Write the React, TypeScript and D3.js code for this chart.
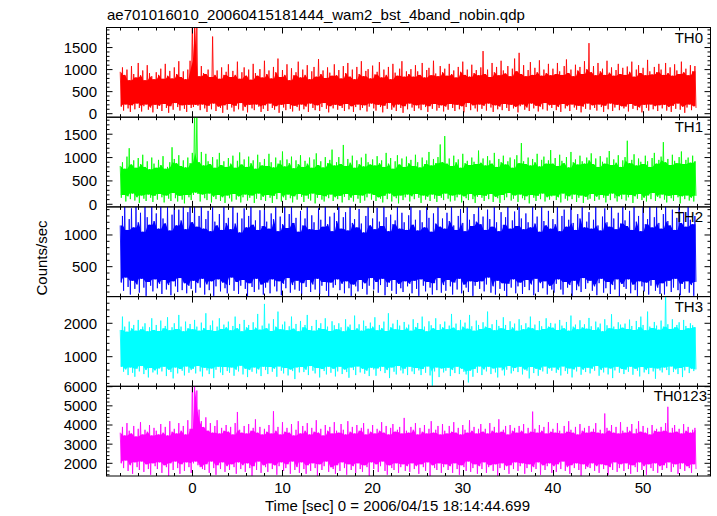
import React from "react";
import * as d3 from "d3";

// Time binning of the light curves (sec, relative to trigger)
const T_START = -8;
const T_STEP = 0.25;

// Per-bin upper / lower envelope values (counts/sec)
const th0Hi = [
  950, 1050, 880, 1000, 760, 1080, 900, 820, 1150, 870, 980, 760, 1100, 920, 850, 780,
  940, 880, 1020, 790, 1130, 860, 970, 800, 1050, 900, 1190, 830, 960, 780, 1000, 1200,
  2100, 1990, 2000, 850, 1080, 920, 900, 1000, 830, 1750, 880, 980, 790, 1050, 880, 950,
  1120, 830, 970, 880, 1180, 790, 940, 1050, 860, 1000, 770, 1130, 920, 860, 1010, 820,
  1200, 900, 980, 800, 1060, 940, 1250, 830, 990, 880, 1120, 760, 1030, 870, 940, 1180,
  820, 1000, 880, 1100, 780, 960, 1060, 840, 1240, 900, 980, 810, 1050, 930, 860, 1120,
  870, 990, 800, 1080, 920, 1150, 840, 1000, 780, 1060, 900, 1190, 850, 970, 1010, 800,
  1090, 890, 950, 1170, 820, 1000, 880, 1060, 780, 1130, 930, 860, 1020, 1190, 840, 960,
  900, 1010, 840, 1100, 960, 880, 1150, 820, 990, 1040, 870, 1200, 910, 850, 1080, 940,
  1020, 860, 1130, 900, 980, 820, 1060, 950, 1180, 880, 1000, 840, 1110, 920, 990, 870,
  1050, 1420, 900, 1000, 830, 1150, 940, 1060, 870, 1200, 980, 910, 1080, 850, 1020, 1250,
  960, 1380, 900, 1100, 850, 990, 1170, 880, 1040, 940, 1210, 860, 1000, 920, 1130, 870,
  1020, 900, 1150, 960, 880, 1080, 1230, 920, 1000, 850, 1110, 980, 1060, 900, 1190, 1010,
  1600, 940, 1080, 870, 1150, 960, 1020, 880, 1200, 930, 1050, 860, 990, 1130, 900, 1040,
  880, 1070, 950, 1180, 840, 1000, 1100, 920, 1040, 870, 1220, 960, 890, 1060, 940, 1130,
  1000, 880, 1150, 920, 1050, 860, 1120, 980, 900, 1180, 940, 1020, 870, 1100, 960, 1080,
];
const th0Lo = [
  160, 70, 210, 120, 40, 190, 100, 230, 130, 50, 170, 210, 90, 140, 30, 200,
  110, 180, 60, 220, 130, 20, 170, 90, 240, 150, 70, 190, 110, 40, 200, 130,
  150, 200, 180, 80, 210, 120, 40, 180, 100, 230, 60, 160, 130, 20, 190, 90,
  220, 140, 50, 180, 100, 240, 70, 150, 30, 200, 120, 80, 210, 160, 40, 110,
  190, 60, 230, 130, 90, 170, 20, 200, 140, 80, 220, 110, 50, 180, 150, 70,
  210, 100, 160, 40, 230, 130, 80, 190, 60, 150, 240, 110, 30, 170, 120, 200,
  90, 180, 130, 60, 220, 100, 170, 40, 150, 210, 80, 130, 190, 50, 160, 230,
  120, 70, 200, 150, 30, 180, 110, 240, 90, 140, 60, 210, 130, 20, 170, 100,
  230, 140, 60, 190, 120, 80, 210, 150, 40, 170, 110, 220, 70, 130, 190, 50,
  160, 90, 220, 130, 60, 200, 100, 170, 30, 150, 240, 80, 190, 120, 50, 210,
  110, 180, 70, 230, 140, 40, 190, 100, 160, 80, 220, 130, 60, 200, 120, 150,
  30, 170, 210, 90, 140, 60, 230, 120, 180, 50, 160, 100, 240, 70, 190, 130,
  200, 80, 150, 40, 220, 120, 170, 60, 210, 140, 90, 180, 30, 160, 110, 230,
  90, 190, 130, 70, 210, 150, 40, 180, 100, 230, 60, 140, 200, 80, 170, 120,
  160, 50, 220, 110, 180, 80, 140, 30, 200, 130, 70, 210, 100, 170, 60, 190,
  120, 200, 70, 150, 40, 180, 110, 230, 90, 160, 20, 140, 210, 80, 170, 130,
];

const th1Hi = [
  820, 900, 760, 1020, 1200, 850, 940, 780, 990, 860, 1060, 800, 920, 750, 1000, 870,
  780, 950, 840, 1030, 760, 800, 900, 1220, 970, 880, 1050, 820, 940, 790, 1000, 880,
  1100, 2000, 1950, 900, 1120, 830, 1080, 920, 860, 1010, 780, 960, 1100, 840, 920, 800,
  990, 870, 1040, 780, 930, 1110, 850, 960, 800, 1020, 880, 940, 760, 1060, 900, 830,
  970, 820, 1080, 900, 790, 1000, 870, 940, 1130, 810, 960, 880, 1020, 770, 940, 860,
  1050, 800, 930, 870, 1000, 780, 960, 1090, 840, 920, 790, 1010, 880, 950, 1170, 830,
  900, 1010, 860, 1270, 820, 970, 890, 1040, 780, 940, 860, 1000, 810, 1080, 900, 850,
  960, 830, 1030, 880, 940, 800, 1100, 870, 990, 760, 920, 1050, 850, 980, 800, 1020,
  880, 950, 820, 1060, 900, 790, 1000, 860, 940, 1120, 830, 970, 880, 1010, 1280, 900,
  1460, 870, 980, 820, 1040, 900, 960, 780, 1080, 880, 930, 840, 1000, 910, 860, 1150,
  890, 980, 830, 1030, 940, 870, 1100, 800, 970, 900, 1040, 850, 920, 1000, 780, 960,
  1050, 880, 1310, 920, 860, 1000, 830, 970, 900, 1080, 810, 950, 1020, 870, 940, 1160,
  870, 990, 820, 1060, 930, 880, 1010, 790, 1120, 900, 960, 850, 1040, 920, 870, 1000,
  940, 1090, 860, 980, 800, 1030, 910, 870, 1000, 1140, 840, 960, 890, 1050, 800, 940,
  1010, 1360, 880, 950, 1070, 830, 980, 910, 860, 1040, 920, 800, 990, 1100, 870, 950,
  1020, 1330, 900, 970, 840, 1060, 930, 880, 1010, 1130, 860, 950, 1000, 890, 1040, 920,
];
const th1Lo = [
  140, 200, 60, 170, 110, 230, 80, 150, 30, 190, 120, 70, 210, 140, 50, 180,
  100, 220, 150, 40, 190, 120, 70, 240, 130, 60, 180, 100, 20, 200, 150, 90,
  200, 250, 220, 60, 210, 130, 90, 230, 40, 160, 110, 200, 70, 150, 30, 190,
  130, 60, 220, 100, 170, 40, 150, 210, 80, 140, 190, 30, 120, 230, 90, 160,
  70, 200, 140, 30, 180, 110, 240, 60, 150, 90, 210, 130, 40, 170, 100, 220,
  160, 50, 190, 120, 80, 230, 20, 140, 200, 100, 60, 170, 130, 210, 70, 150,
  110, 180, 40, 160, 220, 90, 140, 60, 200, 120, 30, 190, 80, 150, 230, 100,
  200, 70, 150, 120, 40, 180, 110, 230, 60, 170, 130, 20, 190, 90, 150, 210,
  60, 170, 110, 220, 140, 30, 190, 100, 160, 70, 210, 120, 50, 180, 140, 90,
  230, 120, 60, 190, 80, 150, 210, 40, 170, 130, 90, 220, 110, 30, 160, 200,
  140, 70, 180, 110, 220, 50, 160, 130, 30, 200, 90, 150, 240, 80, 120, 190,
  50, 210, 130, 90, 170, 20, 200, 140, 70, 180, 110, 230, 60, 150, 100, 170,
  190, 90, 150, 40, 230, 120, 80, 170, 110, 210, 50, 140, 190, 30, 160, 100,
  120, 220, 70, 160, 100, 200, 140, 40, 180, 90, 230, 130, 60, 170, 110, 210,
  80, 150, 200, 30, 170, 120, 220, 90, 140, 60, 190, 110, 240, 70, 160, 130,
  210, 100, 40, 180, 130, 70, 200, 150, 20, 170, 110, 190, 80, 140, 60, 180,
];

const th2Hi = [
  1150, 1300, 1500, 1080, 1250, 1420, 1120, 1500, 1200, 1350, 1050, 1480, 1280, 1160, 1500, 1220,
  1340, 1100, 1500, 1260, 1180, 1450, 1070, 1320, 1500, 1150, 1400, 1230, 1500, 1090, 1360, 1500,
  1200, 1480, 1130, 1300, 1500, 1100, 1250, 1380, 1060, 1500, 1210, 1150, 1330, 1080, 1460, 1190,
  1270, 1090, 1500, 1180, 1350, 1040, 1260, 1420, 1120, 1300, 1500, 1160, 1230, 1080, 1390, 1140,
  1500, 1210, 1100, 1340, 1250, 1500, 1060, 1290, 1170, 1440, 1110, 1330, 1500, 1190, 1270, 1050,
  1380, 1150, 1260, 1500, 1090, 1310, 1200, 1080, 1420, 1240, 1130, 1500, 1170, 1290, 1060, 1350,
  1220, 1500, 1100, 1280, 1360, 1070, 1500, 1190, 1250, 1120, 1410, 1180, 1040, 1300, 1500, 1150,
  1260, 1090, 1430, 1210, 1140, 1500, 1280, 1060, 1320, 1170, 1230, 1460, 1100, 1350, 1200, 1080,
  1310, 1500, 1160, 1240, 1070, 1390, 1200, 1120, 1500, 1270, 1050, 1340, 1180, 1440, 1130, 1260,
  1100, 1350, 1220, 1500, 1150, 1080, 1300, 1410, 1190, 1060, 1500, 1240, 1140, 1330, 1210, 1500,
  1170, 1290, 1080, 1400, 1250, 1130, 1500, 1200, 1060, 1360, 1160, 1280, 1500, 1100, 1230, 1370,
  1140, 1500, 1260, 1090, 1340, 1200, 1120, 1450, 1180, 1290, 1050, 1500, 1220, 1150, 1380, 1100,
  1250, 1170, 1500, 1060, 1300, 1400, 1130, 1240, 1500, 1190, 1080, 1330, 1260, 1500, 1120, 1210,
  1360, 1100, 1240, 1500, 1150, 1070, 1290, 1420, 1200, 1130, 1500, 1260, 1090, 1350, 1180, 1500,
  1230, 1140, 1380, 1080, 1500, 1210, 1300, 1060, 1440, 1170, 1250, 1500, 1120, 1280, 1500, 1190,
  1100, 1330, 1500, 1220, 1150, 1400, 1080, 1270, 1500, 1190, 1360, 1130, 1500, 1240, 1170, 1300,
];
const th2Lo = [
  250, 120, 330, 180, 60, 280, 150, 220, 90, 310, 170, 40, 260, 200, 110, 300,
  160, 230, 70, 290, 140, 210, 50, 270, 190, 100, 320, 130, 240, 80, 200, 150,
  280, 90, 240, 170, 310, 60, 220, 130, 270, 40, 190, 300, 110, 250, 160, 80,
  210, 330, 120, 260, 70, 200, 290, 150, 30, 240, 180, 100, 310, 140, 220, 60,
  170, 250, 80, 300, 190, 110, 270, 50, 230, 160, 320, 90, 210, 140, 280, 120,
  60, 240, 180, 290, 100, 220, 140, 310, 70, 200, 260, 120, 30, 250, 170, 210,
  300, 130, 230, 80, 270, 160, 40, 220, 190, 110, 290, 150, 240, 60, 200, 320,
  140, 260, 90, 210, 310, 50, 180, 250, 120, 290, 70, 230, 160, 100, 270, 190,
  230, 80, 280, 150, 40, 300, 200, 110, 260, 170, 60, 240, 130, 320, 90, 210,
  120, 290, 190, 60, 250, 140, 310, 80, 220, 170, 100, 270, 40, 200, 260, 150,
  270, 110, 220, 330, 90, 190, 60, 280, 150, 240, 120, 30, 230, 170, 300, 80,
  190, 250, 70, 180, 290, 130, 220, 50, 310, 100, 240, 160, 270, 60, 200, 140,
  90, 230, 300, 140, 60, 260, 170, 210, 40, 280, 130, 190, 100, 320, 150, 240,
  280, 120, 190, 50, 240, 310, 90, 160, 260, 70, 210, 140, 300, 30, 230, 180,
  150, 300, 80, 220, 130, 40, 270, 190, 110, 250, 60, 200, 290, 120, 170, 70,
  240, 60, 190, 280, 100, 170, 310, 130, 50, 230, 150, 270, 90, 210, 40, 260,
];

const th3Hi = [
  1800, 2200, 1900, 1750, 2050, 1850, 1950, 1780, 2100, 1820, 1900, 2000, 1760, 1880, 2150, 1800,
  1950, 1770, 2080, 1850, 1920, 2180, 1790, 1880, 2000, 1830, 2250, 1900, 1760, 2050, 1850, 1980,
  1820, 2100, 1900, 1780, 2020, 1860, 2300, 1800, 1940, 2080, 1770, 1900, 2150, 1830, 1960, 1880,
  2050, 1790, 1920, 2200, 1850, 1980, 1760, 2100, 1880, 1950, 1800, 2030, 1870, 2280, 1810, 1930,
  2580, 1850, 1990, 1770, 2120, 1900, 2350, 1820, 1960, 2050, 1790, 1910, 2200, 1840, 1980, 1760,
  2070, 1880, 1950, 2250, 1800, 1920, 1780, 2100, 1860, 2000, 1830, 2150, 1900, 1770, 2060, 1940,
  1820, 2000, 1880, 1760, 2120, 1900, 1960, 1800, 2230, 1850, 1970, 1780, 2080, 1920, 1840, 2020,
  1900, 2180, 1790, 1950, 1860, 2050, 1770, 2300, 1880, 1990, 1820, 2100, 1930, 1800, 2040, 1870,
  1960, 1780, 2120, 1890, 2010, 1830, 2200, 1900, 1760, 2060, 1940, 1850, 2150, 1800, 1970, 1880,
  2050, 1820, 1930, 2280, 1870, 1990, 1790, 2100, 1900, 2020, 1840, 2250, 1910, 1780, 2080, 1950,
  1830, 2030, 1900, 2350, 1860, 1970, 1790, 2100, 1920, 1850, 2180, 1950, 1800, 2060, 1880, 1990,
  1780, 2120, 1940, 1820, 2000, 1880, 2200, 1850, 1960, 1790, 2070, 1910, 1830, 2150, 1900, 2010,
  1870, 1990, 1800, 2100, 1930, 1850, 2040, 1780, 2230, 1900, 1960, 1820, 2090, 1880, 1970, 1840,
  2160, 1910, 1800, 2050, 1880, 1990, 1760, 2120, 1940, 1850, 2270, 1900, 1820, 2030, 1960, 1870,
  1990, 1830, 2110, 1920, 1800, 2070, 1880, 2200, 1950, 1790, 2350, 1900, 1860, 2040, 1930, 1810,
  2080, 1900, 3000, 1970, 1830, 2120, 1880, 1950, 2030, 1800, 2100, 1920, 1850, 2000, 1940, 1880,
];
const th3Lo = [
  700, 550, 620, 450, 680, 520, 400, 640, 560, 720, 480, 600, 380, 660, 530, 590,
  470, 650, 560, 700, 420, 610, 540, 350, 680, 500, 630, 580, 440, 710, 520, 600,
  640, 500, 720, 560, 410, 670, 590, 480, 650, 360, 610, 700, 530, 450, 690, 570,
  520, 680, 430, 610, 560, 730, 470, 640, 390, 600, 550, 680, 500, 620, 420, 700,
  600, 480, 690, 550, 640, 400, 710, 580, 500, 660, 440, 620, 570, 330, 680, 530,
  690, 540, 610, 450, 720, 580, 500, 660, 380, 630, 570, 470, 700, 520, 640, 410,
  560, 700, 480, 620, 540, 370, 680, 600, 450, 710, 530, 640, 490, 580, 420, 670,
  620, 430, 650, 570, 700, 510, 600, 360, 680, 550, 470, 720, 590, 500, 640, 450,
  700, 560, 480, 660, 590, 450, 630, 520, 710, 440, 130, 560, 680, 390, 650, 530,
  580, 670, 420, 600, 510, 700, 480, 640, 550, 470, 230, 580, 400, 630, 520, 710,
  450, 620, 560, 700, 480, 650, 530, 380, 680, 590, 440, 610, 720, 500, 570, 660,
  540, 700, 470, 620, 580, 350, 690, 510, 640, 430, 600, 560, 710, 490, 650, 580,
  680, 520, 600, 440, 710, 570, 490, 650, 380, 620, 560, 700, 460, 610, 540, 670,
  500, 640, 580, 720, 430, 600, 530, 680, 470, 650, 360, 590, 700, 520, 630, 480,
  610, 550, 700, 460, 640, 580, 410, 690, 530, 600, 480, 670, 560, 340, 650, 590,
  530, 680, 600, 450, 710, 540, 620, 480, 660, 390, 590, 700, 510, 640, 570, 620,
];

const th0123Hi = [
  3600, 3900, 3450, 4100, 3700, 3550, 3950, 3400, 3800, 4150, 3500, 3750, 3650, 4000, 3450, 3850,
  3700, 3500, 4050, 3600, 3900, 3450, 4200, 3650, 3800, 3550, 4100, 3700, 3950, 3500, 4250, 3800,
  6500, 6300, 5800, 4800, 4200, 3900, 4400, 3700, 4100, 3600, 3950, 4250, 3550, 3850, 3700, 4000,
  3650, 3900, 3500, 4100, 4680, 3750, 3600, 3950, 3550, 4050, 3700, 3850, 4300, 3600, 3900, 3500,
  3800, 3650, 4000, 3550, 4720, 3700, 3900, 3500, 4150, 3650, 3850, 3600, 4050, 3450, 3750, 4200,
  3550, 3950, 3700, 4100, 3500, 3850, 3650, 4250, 3600, 3800, 3450, 4000, 3700, 3900, 3550, 4150,
  3700, 3600, 4050, 3750, 3500, 4200, 3650, 3900, 3550, 4000, 3700, 3850, 4100, 3500, 3800, 3650,
  4000, 3550, 3800, 3700, 4150, 3600, 3950, 3500, 3850, 4050, 3650, 3750, 3900, 3550, 4370, 3700,
  3600, 3900, 3750, 4100, 3500, 3850, 3650, 4000, 3550, 3800, 4200, 3600, 3750, 3950, 3500, 4050,
  3700, 3550, 3950, 3650, 4150, 3600, 3850, 3500, 4000, 3750, 3600, 4250, 3700, 3900, 3550, 3800,
  4050, 3650, 3800, 3550, 4100, 3700, 3900, 3600, 4300, 3650, 3750, 3950, 3500, 4000, 3700, 3850,
  3600, 3950, 3700, 4050, 3550, 3850, 3650, 4700, 3800, 3600, 4000, 3700, 3900, 3550, 4150, 3650,
  3800, 3600, 4100, 3700, 3550, 3950, 3650, 4200, 3750, 3600, 3900, 3500, 4050, 3700, 3850, 3600,
  3950, 3650, 3800, 4100, 3600, 3750, 3550, 4600, 3850, 3700, 4000, 3600, 3900, 3550, 4150, 3700,
  3600, 3900, 3700, 4050, 3550, 3800, 4200, 3650, 3950, 3600, 3850, 3500, 4000, 3700, 3800, 3650,
  3900, 3700, 4100, 4950, 3600, 3850, 4000, 3650, 3800, 3550, 4050, 3700, 3900, 3600, 3750, 3850,
];
const th0123Lo = [
  2000, 1750, 2150, 1600, 1900, 1450, 2050, 1800, 1650, 2100, 1550, 1950, 1700, 1400, 2000, 1850,
  1700, 2050, 1500, 1900, 1800, 1350, 2000, 1650, 2100, 1750, 1450, 1950, 1600, 2050, 1800, 1500,
  2000, 2100, 1900, 1800, 1700, 1650, 1950, 1500, 2100, 1750, 1400, 1900, 1700, 2050, 1550, 1850,
  1650, 1950, 1800, 1450, 2050, 1700, 1900, 1550, 2000, 1750, 1350, 1850, 1650, 2100, 1500, 1900,
  1800, 1550, 2000, 1700, 1900, 1400, 1850, 2050, 1600, 1750, 1950, 1450, 2100, 1650, 1800, 1500,
  2050, 1700, 1450, 1900, 1600, 2000, 1750, 1350, 1950, 1650, 1850, 2100, 1550, 1800, 1700, 1450,
  1900, 1600, 2050, 1750, 1400, 1950, 1650, 1850, 1500, 2000, 1700, 1550, 1900, 1800, 1350, 2050,
  1700, 1950, 1550, 1850, 2100, 1600, 1400, 1900, 1750, 1650, 2000, 1500, 1800, 1950, 1600, 1850,
  1550, 2000, 1700, 1850, 1450, 1950, 1800, 1600, 2050, 1350, 1900, 1750, 1650, 2000, 1500, 1800,
  1950, 1650, 1850, 1500, 2000, 1700, 1400, 1900, 1800, 1600, 2100, 1550, 1750, 1950, 1450, 1850,
  1700, 2050, 1500, 1800, 1900, 1600, 1950, 1350, 1750, 2000, 1650, 1850, 1450, 1900, 1700, 2050,
  1600, 1850, 2000, 1450, 1750, 1950, 1550, 1800, 1700, 2050, 1400, 1900, 1650, 1850, 2000, 1500,
  1850, 1550, 1950, 1700, 2100, 1600, 1800, 1450, 1900, 1750, 2000, 1650, 1350, 1950, 1700, 1800,
  1750, 2000, 1600, 1850, 1500, 1950, 1700, 1900, 1400, 1800, 1650, 2050, 1550, 1750, 1950, 1600,
  2000, 1700, 1450, 1900, 1800, 1550, 2050, 1650, 1850, 1400, 1950, 1750, 1600, 2000, 1500, 1850,
  1650, 1900, 1750, 2050, 1550, 1800, 1950, 1450, 1700, 2000, 1600, 1850, 1750, 1500, 1950, 1700,
];

const panelNames = ["TH0", "TH1", "TH2", "TH3", "TH0123"];
const panelColors = ["#ff0000", "#00ff00", "#0000ff", "#00ffff", "#ff00ff"];
const panelHi = [th0Hi, th1Hi, th2Hi, th3Hi, th0123Hi];
const panelLo = [th0Lo, th1Lo, th2Lo, th3Lo, th0123Lo];
const panelDomains: [number, number][] = [
  [-80, 1955],
  [-56, 1864],
  [28, 1443],
  [114, 2799],
  [1337, 6021],
];
const panelMajor = [500, 500, 500, 1000, 1000];
const panelMinor = [100, 100, 100, 200, 200];
const xTickLabels = [0, 10, 20, 30, 40, 50];

const TITLE = "ae701016010_20060415181444_wam2_bst_4band_nobin.qdp";
const X_LABEL = "Time [sec] 0 = 2006/04/15 18:14:44.699";
const Y_LABEL = "Counts/sec";

const FONT = "'Liberation Sans', Arial, Helvetica, sans-serif";

function ticksIn(domain: [number, number], step: number) {
  const out: number[] = [];
  const start = Math.ceil(domain[0] / step - 1e-9) * step;
  for (let v = start; v <= domain[1] + 1e-9; v += step) out.push(Math.round(v * 1000) / 1000);
  return out;
}

type Bin = { t: number; hi: number; lo: number; coreHi: number; coreLo: number };

export default function App() {
  const W = 717;
  const H = 516;
  const left = 106.5;
  const right = 710.5;
  const top = 27.5;
  const bottom = 476;
  const ph = (bottom - top) / 5;

  const x = d3.scaleLinear().domain([-9.52, 57.48]).range([left, right]);
  const xMinor = d3.range(-8, 57, 2);

  const panels = panelNames.map((name, k) => {
    const y0 = top + k * ph;
    const y1 = y0 + ph;
    const y = d3.scaleLinear().domain(panelDomains[k]).range([y1, y0]);
    const hi = panelHi[k];
    const lo = panelLo[k];
    const n = hi.length;
    const bins: Bin[] = hi.map((h, i) => {
      const a = Math.max(0, i - 1);
      const b = Math.min(n - 1, i + 1);
      return {
        t: T_START + i * T_STEP,
        hi: h,
        lo: lo[i],
        coreHi: Math.min(hi[a], h, hi[b]),
        coreLo: Math.max(lo[a], lo[i], lo[b]),
      };
    });
    // dense core of the light curve
    const area = d3
      .area<Bin>()
      .x((d) => x(d.t + T_STEP / 4))
      .y1((d) => y(d.coreHi))
      .y0((d) => y(d.coreLo));
    // individual excursions: alternate bin maxima and minima
    const pts: [number, number][] = [];
    bins.forEach((b) => {
      pts.push([b.t, b.hi]);
      pts.push([b.t + T_STEP / 2, b.lo]);
    });
    const line = d3
      .line<[number, number]>()
      .x((d) => x(d[0]))
      .y((d) => y(d[1]));
    return {
      name,
      k,
      y0,
      y1,
      y,
      area: area(bins) || "",
      path: line(pts) || "",
      color: panelColors[k],
    };
  });

  return (
    <svg
      width={W}
      height={H}
      viewBox={`0 0 ${W} ${H}`}
      style={{ position: "absolute", left: 0, top: 0, background: "#fff" }}
      fontFamily={FONT}
    >
      <rect x={0} y={0} width={W} height={H} fill="#fff" />
      <defs>
        {panels.map((p) => (
          <clipPath id={`clip${p.k}`} key={p.k}>
            <rect x={left} y={p.y0} width={right - left} height={p.y1 - p.y0} />
          </clipPath>
        ))}
      </defs>

      {panels.map((p) => (
        <g key={p.name}>
          <g clipPath={`url(#clip${p.k})`}>
            <path d={p.area} fill={p.color} stroke="none" />
            <path d={p.path} fill="none" stroke={p.color} strokeWidth={1} strokeOpacity={0.85} />
          </g>
          {/* frame */}
          <rect
            x={left}
            y={p.y0}
            width={right - left}
            height={p.y1 - p.y0}
            fill="none"
            stroke="#000"
            strokeWidth={1}
          />
          {/* x ticks top & bottom */}
          {xMinor.map((t) => {
            const len = t % 10 === 0 ? 6 : 3;
            const xx = Math.round(x(t)) + 0.5;
            return (
              <g key={t} stroke="#000" strokeWidth={1}>
                <line x1={xx} x2={xx} y1={p.y0} y2={p.y0 + len} />
                <line x1={xx} x2={xx} y1={p.y1} y2={p.y1 - len} />
              </g>
            );
          })}
          {/* y ticks left & right */}
          {ticksIn(panelDomains[p.k], panelMinor[p.k]).map((v) => {
            const isMajor = Math.abs(v / panelMajor[p.k] - Math.round(v / panelMajor[p.k])) < 1e-6;
            const len = isMajor ? 6 : 3;
            const yy = p.y(v);
            return (
              <g key={v} stroke="#000" strokeWidth={1}>
                <line x1={left} x2={left + len} y1={yy} y2={yy} />
                <line x1={right} x2={right - len} y1={yy} y2={yy} />
              </g>
            );
          })}
          {ticksIn(panelDomains[p.k], panelMajor[p.k]).map((v) => (
            <text
              key={`l${v}`}
              x={97}
              y={p.y(v)}
              dy="0.36em"
              textAnchor="end"
              fontSize={15}
              fill="#000"
            >
              {v}
            </text>
          ))}
          <text
            x={p.k === 4 ? 707 : 703}
            y={p.y0 + 15}
            textAnchor="end"
            fontSize={15}
            fill="#000"
          >
            {p.name}
          </text>
        </g>
      ))}

      {xTickLabels.map((t) => (
        <text key={t} x={x(t)} y={493} textAnchor="middle" fontSize={15} fill="#000">
          {t}
        </text>
      ))}

      <text x={107} y={19.5} fontSize={15} fill="#000">
        {TITLE}
      </text>
      <text x={397.5} y={511} textAnchor="middle" fontSize={15} fill="#000">
        {X_LABEL}
      </text>
      <text
        transform="translate(46.5,258) rotate(-90)"
        textAnchor="middle"
        fontSize={15}
        fill="#000"
      >
        {Y_LABEL}
      </text>
    </svg>
  );
}
